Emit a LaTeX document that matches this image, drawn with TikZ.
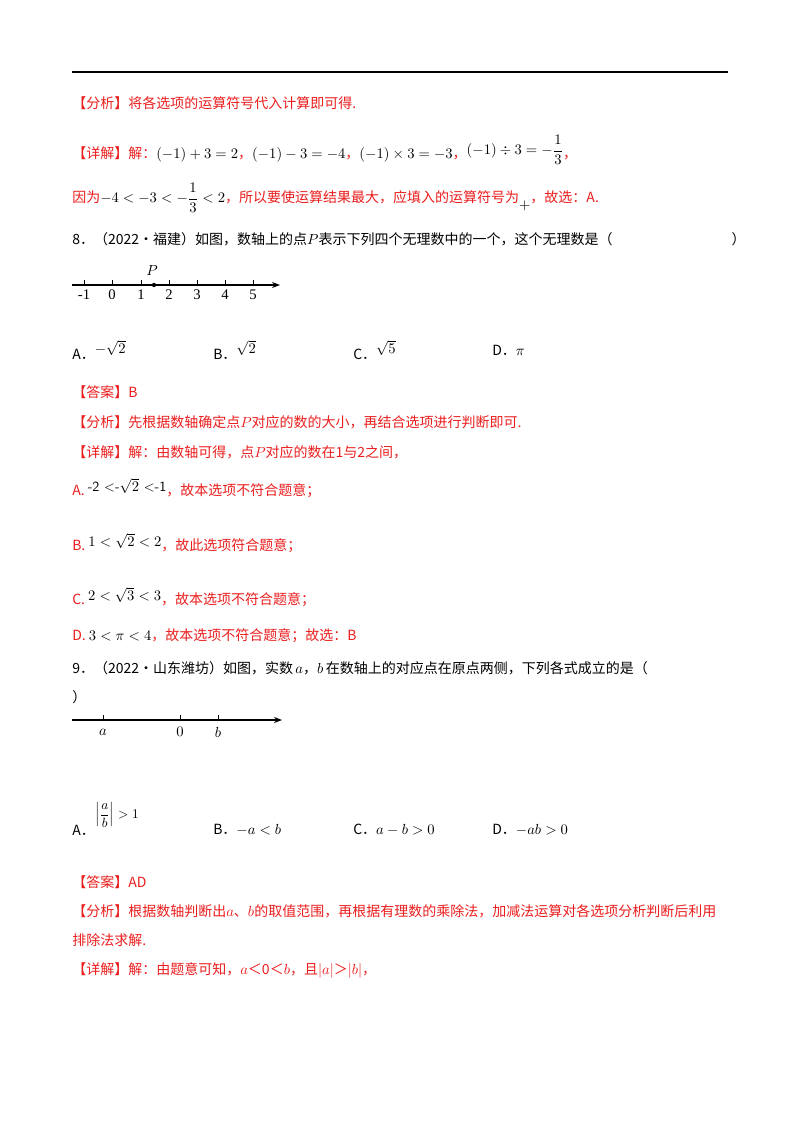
\documentclass[tikz,border=0pt]{standalone}
\usepackage{amsmath}
\usepackage{fontspec}
\setmainfont{Liberation Serif}
\newfontfamily\cjk{Noto Sans CJK SC}
\usetikzlibrary{arrows.meta}
\definecolor{rd}{RGB}{235,30,30}
\begin{document}
\begin{tikzpicture}[x=0.75pt,y=-0.75pt,
  t/.style={anchor=west,inner sep=0pt,font=\cjk\fontsize{10.5}{12}\selectfont},
  r/.style={t,text=rd},
  ax/.style={line width=0.8pt,-{Stealth[length=6pt]}},
  lb/.style={inner sep=0pt,font=\fontsize{11}{12}\selectfont}]
\useasboundingbox (0,0) rectangle (800,1132);
\fill[white] (0,0) rectangle (800,1132);
\draw[line width=1.2pt] (72,72) -- (728,72);
\node[r] (l1) at (72,103) {【分析】将各选项的运算符号代入计算即可得.};
\node[r] (l2) at (72,150) {【详解】解：\textcolor{black}{$(-1)+3=2$}，\textcolor{black}{$(-1)-3=-4$}，\textcolor{black}{$(-1)\times3=-3$}，\raisebox{3pt}{\textcolor{black}{$(-1)\div3=-\dfrac13$}}，};
\node[r] (l3) at (72,198) {因为\textcolor{black}{$-4<-3<-\dfrac13<2$}，所以要使运算结果最大，应填入的运算符号为\raisebox{-5pt}{\textcolor{black}{$+$}}，故选：A.};
\node[t] (q8) at (72,239) {8．（2022·福建）如图，数轴上的点$P$表示下列四个无理数中的一个，这个无理数是（\hspace{8.5em}）};
% number line 1
\coordinate (s1) at (72,285); \coordinate (e1) at (280,285);
\draw[ax] (s1) -- (e1);
\foreach \v/\x in {-1/84,0/112,1/141,2/169,3/197,4/225,5/253}{
  \draw (\x,285) -- (\x,280);
  \node[lb] at (\x,295) {\v};}
\fill (154,285) circle (1.6pt);
\node[lb] (P) at (152,271) {$P$};
\node[t] (a8) at (72,350) {A．\raisebox{5pt}{$-\sqrt2$}};
\node[t] (b8) at (213,350) {B．\raisebox{5pt}{$\sqrt2$}};
\node[t] (c8) at (353,350) {C．\raisebox{5pt}{$\sqrt5$}};
\node[t] (d8) at (492,350) {D．$\pi$};
\node[r] (ans8) at (72,392) {【答案】B};
\node[r] (an8) at (72,422) {【分析】先根据数轴确定点$P$对应的数的大小，再结合选项进行判断即可.};
\node[r] (de8) at (72,452) {【详解】解：由数轴可得，点$P$对应的数在1与2之间，};
\node[r] (o1) at (72,488) {A.\ \raisebox{3pt}{\textcolor{black}{\sffamily -2 <-$\sqrt2$ <-1}}，故本选项不符合题意；};
\node[r] (o2) at (72,543) {B.\ \raisebox{3pt}{\textcolor{black}{$1<\sqrt2<2$}}，故此选项符合题意；};
\node[r] (o3) at (72,597) {C.\ \raisebox{3pt}{\textcolor{black}{$2<\sqrt3<3$}}，故本选项不符合题意；};
\node[r] (o4) at (72,636) {D.\ \textcolor{black}{$3<\pi<4$}，故本选项不符合题意；故选：B};
\node[t] (q9) at (72,668) {9．（2022·山东潍坊）如图，实数\,$a$，$b$\,在数轴上的对应点在原点两侧，下列各式成立的是（};
\node[t] (q9b) at (72,697) {）};
% number line 2
\coordinate (s2) at (72,720); \coordinate (e2) at (282,720);
\draw[ax] (s2) -- (e2);
\foreach \x/\v in {103/a,180/0,218/b}{
  \draw (\x,720) -- (\x,715);
  \node[lb] at (\x,732) {$\v$};}
\node[t] (a9) at (72,830) {A．};
\node[inner sep=0pt,anchor=west] (a9f) at (95,815) {$\left|\dfrac ab\right|>1$};
\node[t] (b9) at (213,830) {B．$-a<b$};
\node[t] (c9) at (353,830) {C．$a-b>0$};
\node[t] (d9) at (492,830) {D．$-ab>0$};
\node[r] (ans9) at (72,882) {【答案】AD};
\node[r] (an9) at (72,911) {【分析】根据数轴判断出$a$、$b$的取值范围，再根据有理数的乘除法，加减法运算对各选项分析判断后利用};
\node[r] (an9b) at (72,940) {排除法求解.};
\node[r] (de9) at (72,970) {【详解】解：由题意可知，$a$＜0＜$b$，且$|a|$＞$|b|$，};
\end{tikzpicture}
\end{document}
